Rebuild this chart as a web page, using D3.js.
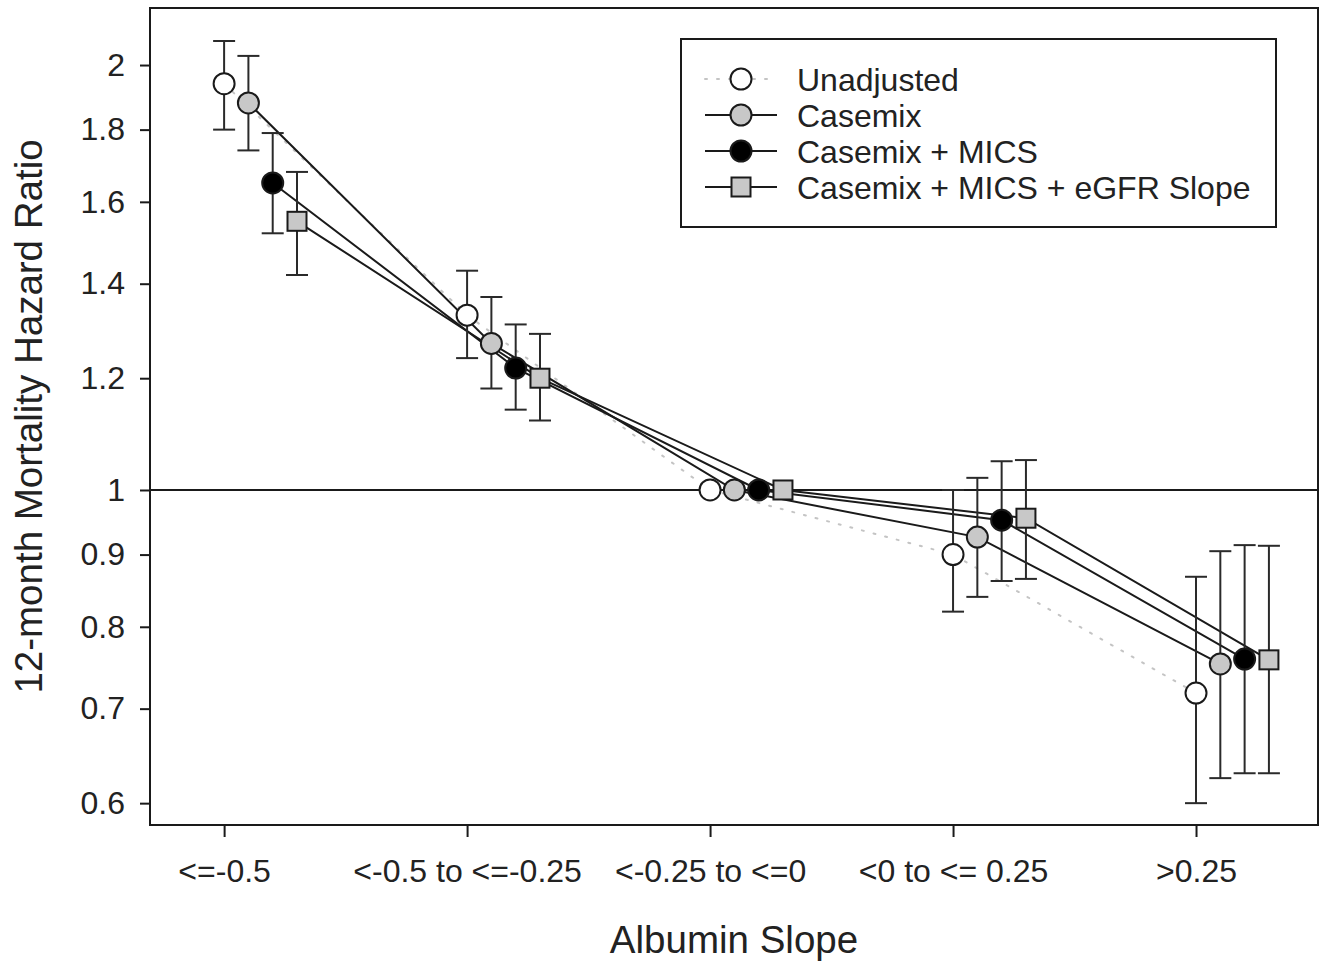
<!DOCTYPE html>
<html>
<head>
<meta charset="utf-8">
<script src="https://cdn.jsdelivr.net/npm/d3@7"></script>
<style>
  body { margin: 0; background: #fff; }
  svg { font-family: "Liberation Sans", Arial, sans-serif; }
</style>
</head>
<body>
<svg width="1327" height="964"></svg>
<script>
// Data
const categories = ["<=-0.5", "<-0.5 to <=-0.25", "<-0.25 to <=0", "<0 to <= 0.25", ">0.25"];
const yTicks = [0.6, 0.7, 0.8, 0.9, 1, 1.2, 1.4, 1.6, 1.8, 2];

const unadjHR = [1.94, 1.33, 1, 0.90, 0.718];
const unadjLo = [1.80, 1.24, null, 0.82, 0.60];
const unadjHi = [2.08, 1.43, null, 1.00, 0.868];

const casemixHR = [1.88, 1.27, 1, 0.926, 0.753];
const casemixLo = [1.74, 1.18, null, 0.84, 0.625];
const casemixHi = [2.03, 1.37, null, 1.02, 0.905];

const micsHR = [1.65, 1.22, 1, 0.952, 0.759];
const micsLo = [1.52, 1.14, null, 0.862, 0.630];
const micsHi = [1.79, 1.31, null, 1.048, 0.914];

const egfrHR = [1.55, 1.20, 1, 0.955, 0.758];
const egfrLo = [1.42, 1.12, null, 0.865, 0.630];
const egfrHi = [1.68, 1.29, null, 1.05, 0.913];

const series = [
  { name: "Unadjusted", hr: unadjHR, lo: unadjLo, hi: unadjHi, shape: "circle", fill: "#fff", dotted: true },
  { name: "Casemix", hr: casemixHR, lo: casemixLo, hi: casemixHi, shape: "circle", fill: "#c8c8c8", dotted: false },
  { name: "Casemix + MICS", hr: micsHR, lo: micsLo, hi: micsHi, shape: "circle", fill: "#000", dotted: false },
  { name: "Casemix + MICS + eGFR Slope", hr: egfrHR, lo: egfrLo, hi: egfrHi, shape: "square", fill: "#c8c8c8", dotted: false }
];

// Layout
const plot = { left: 150, right: 1318, top: 8, bottom: 825 };
const ink = "#1a1a1a";

const svg = d3.select("svg");

const x = d3.scaleLinear()
    .domain([-0.305, 4.502])
    .range([plot.left, plot.right]);

const y = d3.scaleLog()
    .domain([0.579, 2.195])
    .range([plot.bottom, plot.top]);

const offset = 0.1; // horizontal shift between series, in category units
const px = (si, i) => x(i + si * offset);

// Reference line at HR = 1
svg.append("line")
    .attr("x1", plot.left).attr("x2", plot.right)
    .attr("y1", y(1)).attr("y2", y(1))
    .attr("stroke", ink).attr("stroke-width", 2);

// Series lines
const line = d3.line();
series.forEach((s, si) => {
    const pts = s.hr.map((v, i) => [px(si, i), y(v)]);
    svg.append("path")
        .attr("d", line(pts))
        .attr("fill", "none")
        .attr("stroke", s.dotted ? "#c4c4c4" : ink)
        .attr("stroke-width", 2)
        .attr("stroke-dasharray", s.dotted ? "2,10" : null)
        .attr("stroke-linecap", s.dotted ? "round" : "butt");
});

// Error bars
const cap = 11;
series.forEach((s, si) => {
    s.hr.forEach((v, i) => {
        if (s.lo[i] == null) return;
        const cx = px(si, i);
        const g = svg.append("g").attr("stroke", "#2a2a2a").attr("stroke-width", 2);
        g.append("line").attr("x1", cx).attr("x2", cx).attr("y1", y(s.lo[i])).attr("y2", y(s.hi[i]));
        g.append("line").attr("x1", cx - cap).attr("x2", cx + cap).attr("y1", y(s.lo[i])).attr("y2", y(s.lo[i]));
        g.append("line").attr("x1", cx - cap).attr("x2", cx + cap).attr("y1", y(s.hi[i])).attr("y2", y(s.hi[i]));
    });
});

// Markers
function marker(g, shape, fill, cx, cy) {
    if (shape === "square") {
        g.append("rect")
            .attr("x", cx - 9.5).attr("y", cy - 9.5)
            .attr("width", 19).attr("height", 19)
            .attr("fill", fill).attr("stroke", ink).attr("stroke-width", 2);
    } else {
        g.append("circle")
            .attr("cx", cx).attr("cy", cy).attr("r", 10.5)
            .attr("fill", fill).attr("stroke", ink).attr("stroke-width", 2);
    }
}
series.forEach((s, si) => {
    const g = svg.append("g");
    s.hr.forEach((v, i) => marker(g, s.shape, s.fill, px(si, i), y(v)));
});

// Frame
svg.append("rect")
    .attr("x", plot.left).attr("y", plot.top)
    .attr("width", plot.right - plot.left).attr("height", plot.bottom - plot.top)
    .attr("fill", "none").attr("stroke", ink).attr("stroke-width", 2);

// Y axis
const yAxis = svg.append("g")
    .attr("transform", `translate(${plot.left},0)`)
    .call(d3.axisLeft(y).tickValues(yTicks).tickFormat(d3.format("")).tickSize(10).tickPadding(15));
yAxis.select(".domain").remove();
yAxis.selectAll(".tick line").attr("stroke", ink).attr("stroke-width", 2);
yAxis.selectAll(".tick text")
    .attr("font-size", 32).attr("fill", "#222")
    .style("font-family", "'Liberation Sans', Arial, sans-serif");

// X axis
const xAxis = svg.append("g")
    .attr("transform", `translate(0,${plot.bottom})`)
    .call(d3.axisBottom(x).tickValues(d3.range(categories.length))
        .tickFormat(i => categories[i]).tickSize(12).tickPadding(22));
xAxis.select(".domain").remove();
xAxis.selectAll(".tick line").attr("stroke", ink).attr("stroke-width", 2);
xAxis.selectAll(".tick text")
    .attr("font-size", 32).attr("fill", "#222")
    .style("font-family", "'Liberation Sans', Arial, sans-serif");

// Axis titles
svg.append("text")
    .attr("x", (plot.left + plot.right) / 2).attr("y", 953)
    .attr("text-anchor", "middle")
    .attr("font-size", 38.5).attr("fill", "#222")
    .text("Albumin Slope");

svg.append("text")
    .attr("transform", `translate(42,${(plot.top + plot.bottom) / 2}) rotate(-90)`)
    .attr("text-anchor", "middle")
    .attr("font-size", 38.5).attr("fill", "#222")
    .text("12-month Mortality Hazard Ratio");

// Legend
const legend = svg.append("g");
legend.append("rect")
    .attr("x", 681).attr("y", 39).attr("width", 595).attr("height", 188)
    .attr("fill", "#fff").attr("stroke", ink).attr("stroke-width", 2);

series.forEach((s, si) => {
    const ly = 79 + si * 36;
    legend.append("line")
        .attr("x1", 705).attr("x2", 777).attr("y1", ly).attr("y2", ly)
        .attr("stroke", s.dotted ? "#c4c4c4" : ink)
        .attr("stroke-width", 2)
        .attr("stroke-dasharray", s.dotted ? "2,10" : null)
        .attr("stroke-linecap", s.dotted ? "round" : "butt");
    marker(legend, s.shape, s.fill, 741, ly);
    legend.append("text")
        .attr("x", 797).attr("y", ly)
        .attr("dy", "0.36em")
        .attr("font-size", 32).attr("fill", "#222")
        .text(s.name);
});
</script>
</body>
</html>
